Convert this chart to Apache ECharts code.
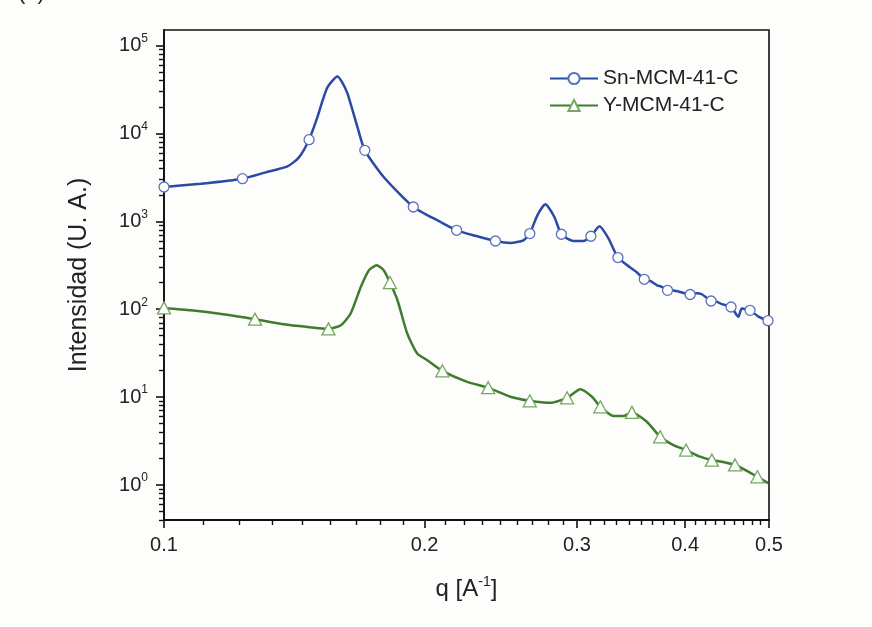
<!DOCTYPE html>
<html><head><meta charset="utf-8">
<script src="https://cdn.jsdelivr.net/npm/echarts@6/dist/echarts.min.js"></script>
<style>html,body{margin:0;padding:0;background:#fdfdfb}#c{width:872px;height:627px}</style>
</head><body><div id="c"></div>
<script>
const seriesNames = ['Sn-MCM-41-C', 'Y-MCM-41-C'];
const xTickLabels = [0.1, 0.2, 0.3, 0.4, 0.5];
const xMinorTicks = [0.1111,0.1222,0.1333,0.1444,0.1556,0.1667,0.1778,0.1889,
  0.2111,0.2222,0.2333,0.2444,0.2556,0.2667,0.2778,0.2889,
  0.3111,0.3222,0.3333,0.3444,0.3556,0.3667,0.3778,0.3889,
  0.4111,0.4222,0.4333,0.4444,0.4556,0.4667,0.4778,0.4889];
const yTickValues = [1, 10, 100, 1000, 10000, 100000];
const yMinorTicks = [0.4,0.5,0.6,0.7,0.8,0.9,
  2,3,4,5,6,7,8,9, 20,30,40,50,60,70,80,90,
  200,300,400,500,600,700,800,900, 2000,3000,4000,5000,6000,7000,8000,9000,
  20000,30000,40000,50000,60000,70000,80000,90000];

// [q, intensity]
const snData = [
  [0.1000,2455],[0.1103,2680],[0.1232,3055],[0.1311,3605],[0.1389,4217],[0.1431,5300],
  [0.1471,8478],[0.1504,15300],[0.1525,23700],[0.1545,33600],[0.1586,44400],[0.1604,38950],
  [0.1629,28500],[0.1673,11800],[0.1706,6410],[0.1794,3186],[0.1941,1454],[0.2087,982],
  [0.2178,790],[0.2290,684],[0.2415,597],[0.2513,567],[0.2602,608],[0.2646,725],
  [0.2700,1170],[0.2758,1561],[0.2825,1119],[0.2878,712],[0.2971,597],[0.3050,597],
  [0.3113,676],[0.3185,877],[0.3263,636],[0.3345,387],[0.3457,298],[0.3520,262],[0.3588,219],
  [0.3650,208],[0.3711,187],[0.3760,180],[0.3817,164],[0.3880,163],[0.3948,157],[0.4054,147],
  [0.4120,152],[0.4182,148],[0.4286,124],[0.4350,122],[0.4410,114],[0.4520,106],[0.4609,82],
  [0.4651,102],[0.4754,97],[0.4857,83],[0.4987,74]
];
const snMarkers = [0.1000,0.1232,0.1471,0.1706,0.1941,0.2178,0.2415,0.2646,0.2878,0.3113,
  0.3345,0.3588,0.3817,0.4054,0.4286,0.4520,0.4754,0.4987];

const yData = [
  [0.1000,103.5],[0.1074,97.4],[0.1170,87.8],[0.1274,77.0],[0.1376,67.5],[0.1460,63.0],
  [0.1549,59.7],[0.1601,65.8],[0.1643,89.4],[0.1688,179],[0.1725,277],[0.1761,316],
  [0.1794,277],[0.1824,201],[0.1861,126.5],[0.1910,52.9],[0.1961,31.4],[0.2014,26.3],
  [0.2097,19.9],[0.2240,14.9],[0.2369,12.8],[0.2513,10.1],[0.2646,9.08],[0.2795,8.61],
  [0.2922,9.82],[0.3027,12.3],[0.3122,10.1],[0.3192,7.76],[0.3307,6.08],[0.3396,6.08],
  [0.3472,6.70],[0.3613,5.24],[0.3743,3.54],[0.3877,2.85],[0.4010,2.50],[0.4163,2.10],
  [0.4295,1.92],[0.4410,1.84],[0.4568,1.69],[0.4732,1.42],[0.4848,1.24],[0.4990,1.05]
];
const yMarkers = [0.1000,0.1274,0.1549,0.1824,0.2097,0.2369,0.2646,0.2922,0.3192,0.3472,
  0.3743,0.4010,0.4295,0.4568,0.4848];

const FONT = 'Liberation Sans, Arial, sans-serif';
const TXT = '#222222';

function build(data, marks) {
  const set = new Set(marks);
  return data.map(d => set.has(d[0]) ? { value: d } : { value: d, symbol: 'none' });
}

const chart = echarts.init(document.getElementById('c'), null, { renderer: 'canvas' });
chart.setOption({
  animation: false,
  backgroundColor: '#fdfdfb',
  graphic: [{
    type: 'text', left: 18, top: -18,
    style: { text: '(b)', font: '22px ' + FONT, fill: TXT }
  }],
  grid: { left: 164, right: 103, top: 30, bottom: 107, containLabel: false, outerBoundsMode: 'none',
    show: true, borderColor: '#111', borderWidth: 1.6, backgroundColor: 'transparent' },
  legend: {
    orient: 'vertical', left: 544, top: 63, itemWidth: 48, itemHeight: 14, itemGap: 6,
    data: seriesNames,
    textStyle: { fontSize: 21, fontFamily: FONT, color: TXT, lineHeight: 21 }
  },
  xAxis: [{
    type: 'log', logBase: 10, min: 0.1, max: 0.5, position: 'bottom',
    axisLine: { onZero: false, lineStyle: { color: '#111', width: 1.8 } },
    axisTick: { show: true, inside: false, length: 8, customValues: xTickLabels, lineStyle: { color: '#111', width: 1.6 } },
    axisLabel: { customValues: xTickLabels, margin: 15, fontSize: 20, fontFamily: FONT, color: TXT,
      formatter: v => String(+Number(v).toFixed(2)) },
    splitLine: { show: false }, minorTick: { show: false },
    name: '{a|q [A}{s|-1}{a|]}', nameLocation: 'middle', nameGap: 55,
    nameTextStyle: { rich: {
      a: { fontSize: 24, fontFamily: FONT, color: TXT, lineHeight: 28 },
      s: { fontSize: 14, fontFamily: FONT, color: TXT, lineHeight: 14, verticalAlign: 'top' } } }
  }, {
    type: 'log', logBase: 10, min: 0.1, max: 0.5, position: 'bottom',
    axisLine: { show: false, onZero: false },
    axisTick: { show: true, inside: false, length: 5, customValues: xMinorTicks, lineStyle: { color: '#111', width: 1.4 } },
    axisLabel: { show: false }, splitLine: { show: false }
  }],
  yAxis: [{
    type: 'log', logBase: 10, min: 0.4, max: 150000, position: 'left',
    axisLine: { onZero: false, lineStyle: { color: '#111', width: 1.8 } },
    axisTick: { show: true, inside: false, length: 8, customValues: yTickValues, lineStyle: { color: '#111', width: 1.6 } },
    axisLabel: { customValues: yTickValues, margin: 16, color: TXT,
      formatter: v => '{b|10}{s|' + Math.round(Math.log10(v)) + '}',
      rich: {
        b: { fontSize: 20, fontFamily: FONT, color: TXT, lineHeight: 26 },
        s: { fontSize: 12, fontFamily: FONT, color: TXT, lineHeight: 14, verticalAlign: 'top' } } },
    splitLine: { show: false },
    name: 'Intensidad (U. A.)', nameLocation: 'middle', nameGap: 72,
    nameTextStyle: { fontSize: 25, fontFamily: FONT, color: TXT }
  }, {
    type: 'log', logBase: 10, min: 0.4, max: 150000, position: 'left',
    axisLine: { show: false, onZero: false },
    axisTick: { show: true, inside: false, length: 5, customValues: yMinorTicks, lineStyle: { color: '#111', width: 1.4 } },
    axisLabel: { show: false }, splitLine: { show: false }
  }],
  series: [{
    name: seriesNames[0], type: 'line', xAxisIndex: 0, yAxisIndex: 0,
    data: build(snData, snMarkers), symbol: 'circle', symbolSize: 10, showSymbol: true, smooth: 0.2,
    lineStyle: { color: '#2b4aa3', width: 2.5 },
    itemStyle: { color: '#ffffff', borderColor: '#5a70bd', borderWidth: 1.3 },
    emphasis: { disabled: true }, z: 3
  }, {
    name: seriesNames[1], type: 'line', xAxisIndex: 0, yAxisIndex: 0,
    data: build(yData, yMarkers), symbol: 'triangle', symbolSize: [13, 12], showSymbol: true, smooth: 0.2,
    lineStyle: { color: '#3f7c2e', width: 2.5 },
    itemStyle: { color: '#ffffff', borderColor: '#74a862', borderWidth: 1.3 },
    emphasis: { disabled: true }, z: 3
  }]
});
</script></body></html>
